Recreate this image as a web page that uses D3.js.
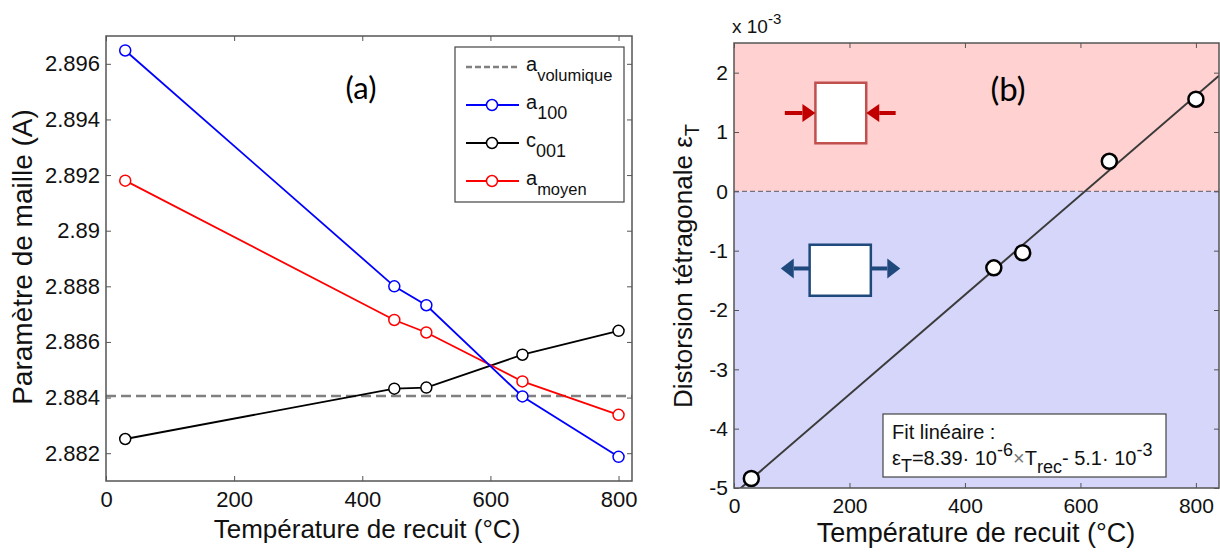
<!DOCTYPE html>
<html><head><meta charset="utf-8">
<script src="https://cdn.jsdelivr.net/npm/d3@7"></script>
<style>body{margin:0;background:#fff}svg{display:block}</style>
</head><body>
<svg id="c" width="1220" height="555"></svg>
<script>
// ---------- DATA ----------
const temps = [30, 450, 500, 650, 800];
const a100 = [2.89648, 2.8880, 2.88732, 2.88404, 2.88187];
const c001 = [2.88251, 2.88432, 2.88436, 2.88554, 2.88640];
const aMoyen = [2.89180, 2.88679, 2.88634, 2.88458, 2.88338];
const aVolumique = 2.88406;
const leftYTicks = [2.882, 2.884, 2.886, 2.888, 2.89, 2.892, 2.894, 2.896];
const xTicks = [0, 200, 400, 600, 800];
const distortion = [-4.84, -1.29, -1.035, 0.506, 1.553]; // x 1e-3
const rightYTicks = [-5, -4, -3, -2, -1, 0, 1, 2];
const fitSlope = 8.39e-3; // per °C, in units of 1e-3
const fitIntercept = -5.1;

const svg = d3.select("#c");
const TICKF = "'Liberation Sans', Arial, sans-serif";
const AXC = "#555";

function frame(g, x, y, xt, yt, ylabFmt, fs) {
  const [x0, x1] = x.range(), [y0, y1] = y.range();
  g.append("g").attr("transform", `translate(0,${y0})`)
    .call(d3.axisBottom(x).tickValues(xt).tickSizeInner(-5).tickSizeOuter(0).tickPadding(10))
    .call(s => { s.select(".domain").remove(); s.selectAll("line").attr("stroke", AXC); s.selectAll("text").attr("font-family", TICKF).attr("font-size", fs).attr("fill", "#111"); });
  g.append("g").attr("transform", `translate(0,${y1})`)
    .call(d3.axisTop(x).tickValues(xt).tickSizeInner(-5).tickSizeOuter(0).tickFormat(""))
    .call(s => { s.select(".domain").remove(); s.selectAll("line").attr("stroke", AXC); });
  g.append("g").attr("transform", `translate(${x0},0)`)
    .call(d3.axisLeft(y).tickValues(yt).tickSizeInner(-5).tickSizeOuter(0).tickPadding(6).tickFormat(ylabFmt))
    .call(s => { s.select(".domain").remove(); s.selectAll("line").attr("stroke", AXC); s.selectAll("text").attr("font-family", TICKF).attr("font-size", fs).attr("fill", "#111"); });
  g.append("g").attr("transform", `translate(${x1},0)`)
    .call(d3.axisRight(y).tickValues(yt).tickSizeInner(-5).tickSizeOuter(0).tickFormat(""))
    .call(s => { s.select(".domain").remove(); s.selectAll("line").attr("stroke", AXC); });
  g.append("rect").attr("x", x0).attr("y", y1).attr("width", x1 - x0).attr("height", y0 - y1)
    .attr("fill", "none").attr("stroke", AXC).attr("stroke-width", 1.5);
}

// ---------- LEFT PANEL ----------
const L = svg.append("g");
const xL = d3.scaleLinear().domain([0, 821]).range([106, 632]);
const yL = d3.scaleLinear().domain([2.881, 2.897]).range([481, 36]);

L.append("line").attr("x1", xL(0)).attr("x2", xL(821)).attr("y1", yL(aVolumique)).attr("y2", yL(aVolumique))
  .attr("stroke", "#808080").attr("stroke-width", 2.5).attr("stroke-dasharray", "10,5");

const seriesL = [
  {name: "c", vals: c001, color: "#000"},
  {name: "m", vals: aMoyen, color: "#ff0000"},
  {name: "a", vals: a100, color: "#0000ff"}
];
const lineL = d3.line().x((d, i) => xL(temps[i])).y(d => yL(d));
seriesL.forEach(s => {
  L.append("path").attr("d", lineL(s.vals)).attr("fill", "none").attr("stroke", s.color).attr("stroke-width", 1.8);
  L.selectAll(null).data(s.vals).enter().append("circle")
    .attr("cx", (d, i) => xL(temps[i])).attr("cy", d => yL(d)).attr("r", 5.5)
    .attr("fill", "#fff").attr("stroke", s.color).attr("stroke-width", 1.5);
});
frame(L, xL, yL, xTicks, leftYTicks, d => String(+d.toFixed(3)), 22);

L.append("text").attr("x", 361).attr("y", 99).attr("text-anchor", "middle")
  .attr("font-family", "Lato, 'Open Sans', sans-serif").attr("font-size", 31).text("(a)");

// legend
const leg = L.append("g");
leg.append("rect").attr("x", 455).attr("y", 47).attr("width", 169).attr("height", 155)
  .attr("fill", "#fff").attr("stroke", "#444").attr("stroke-width", 1.2);
const legItems = [
  {b: "a", s: "volumique", color: "#808080", dash: true},
  {b: "a", s: "100", color: "#0000ff"},
  {b: "c", s: "001", color: "#000"},
  {b: "a", s: "moyen", color: "#ff0000"}
];
legItems.forEach((it, i) => {
  const yy = 67 + i * 38;
  leg.append("line").attr("x1", 466).attr("x2", 519).attr("y1", yy).attr("y2", yy)
    .attr("stroke", it.color).attr("stroke-width", it.dash ? 2.5 : 1.8)
    .attr("stroke-dasharray", it.dash ? "6,3" : null);
  if (!it.dash) leg.append("circle").attr("cx", 492).attr("cy", yy).attr("r", 5.5)
    .attr("fill", "#fff").attr("stroke", it.color).attr("stroke-width", 1.5);
  const t = leg.append("text").attr("x", 526).attr("y", yy + 4).attr("font-family", TICKF).attr("font-size", 20).attr("fill", "#111");
  t.append("tspan").text(it.b);
  t.append("tspan").attr("dy", 10).attr("font-size", it.s === "volumique" || it.s === "moyen" ? 16.5 : 18).text(it.s);
});

L.append("text").attr("x", 367).attr("y", 538).attr("text-anchor", "middle")
  .attr("font-family", TICKF).attr("font-size", 26).attr("fill", "#111").text("Température de recuit (°C)");
L.append("text").attr("transform", "translate(32,257) rotate(-90)").attr("text-anchor", "middle")
  .attr("font-family", TICKF).attr("font-size", 28).attr("fill", "#111").text("Paramètre de maille (A)");

// ---------- RIGHT PANEL ----------
const R = svg.append("g");
const xR = d3.scaleLinear().domain([0, 840]).range([734, 1219]);
const yR = d3.scaleLinear().domain([-5, 2.5]).range([488, 43]);

R.append("rect").attr("x", xR(0)).attr("y", yR(2.5)).attr("width", xR(840) - xR(0)).attr("height", yR(0) - yR(2.5)).attr("fill", "#ffd1d1");
R.append("rect").attr("x", xR(0)).attr("y", yR(0)).attr("width", xR(840) - xR(0)).attr("height", yR(-5) - yR(0)).attr("fill", "#d5d6fa");
R.append("line").attr("x1", xR(0)).attr("x2", xR(840)).attr("y1", yR(0)).attr("y2", yR(0))
  .attr("stroke", "#7a7080").attr("stroke-width", 1.2).attr("stroke-dasharray", "5,3");

// icons (data units)
function arrow(g, xa, xb, yv, color, headLen, headHalf, w) {
  const x1 = xR(xa), x2 = xR(xb), y = yR(yv);
  const dir = Math.sign(x2 - x1);
  g.append("line").attr("x1", x1).attr("x2", x2 - dir * headLen).attr("y1", y).attr("y2", y).attr("stroke", color).attr("stroke-width", w);
  g.append("path").attr("d", `M${x2},${y}L${x2 - dir * headLen},${y - headHalf}L${x2 - dir * headLen},${y + headHalf}Z`).attr("fill", color);
}
const ic = R.append("g");
ic.append("rect").attr("x", xR(141)).attr("y", yR(1.83)).attr("width", xR(229) - xR(141)).attr("height", yR(0.81) - yR(1.83))
  .attr("fill", "#fff").attr("stroke", "#c0504d").attr("stroke-width", 2.5);
arrow(ic, 88, 141, 1.32, "#c00000", 13, 9, 4);
arrow(ic, 280, 229, 1.32, "#c00000", 13, 9, 4);
ic.append("rect").attr("x", xR(131)).attr("y", yR(-0.9)).attr("width", xR(237) - xR(131)).attr("height", yR(-1.76) - yR(-0.9))
  .attr("fill", "#fff").attr("stroke", "#1f497d").attr("stroke-width", 2.5);
arrow(ic, 131, 81, -1.3, "#1f497d", 13, 10, 4);
arrow(ic, 237, 288, -1.3, "#1f497d", 13, 10, 4);

// fit line
R.append("clipPath").attr("id", "clipR").append("rect")
  .attr("x", xR(0)).attr("y", yR(2.5)).attr("width", xR(840) - xR(0)).attr("height", yR(-5) - yR(2.5));
const fitX = [0, 840];
R.append("path").attr("clip-path", "url(#clipR)")
  .attr("d", d3.line().x(d => xR(d)).y(d => yR(fitSlope * d + fitIntercept))(fitX))
  .attr("fill", "none").attr("stroke", "#3a3a3a").attr("stroke-width", 2);
R.selectAll(null).data(distortion).enter().append("circle")
  .attr("cx", (d, i) => xR(temps[i])).attr("cy", d => yR(d)).attr("r", 7.5)
  .attr("fill", "#fff").attr("stroke", "#000").attr("stroke-width", 2.5);

frame(R, xR, yR, xTicks, rightYTicks, d => String(d), 21);

R.append("text").attr("x", 1008).attr("y", 101).attr("text-anchor", "middle")
  .attr("font-family", "Lato, 'Open Sans', sans-serif").attr("font-size", 33).text("(b)");

const xt = R.append("text").attr("x", 732).attr("y", 33).attr("font-family", TICKF).attr("font-size", 19).attr("fill", "#111");
xt.append("tspan").text("x 10");
xt.append("tspan").attr("dy", -9).attr("font-size", 15).text("-3");

// fit box
R.append("rect").attr("x", 883).attr("y", 414).attr("width", 283).attr("height", 63)
  .attr("fill", "#fff").attr("stroke", "#444").attr("stroke-width", 1.2);
R.append("text").attr("x", 892).attr("y", 439).attr("font-family", TICKF).attr("font-size", 20).attr("fill", "#111").text("Fit linéaire :");
const ft = R.append("text").attr("x", 892).attr("y", 465).attr("font-family", TICKF).attr("font-size", 20).attr("fill", "#111");
ft.append("tspan").text("ε");
ft.append("tspan").attr("dy", 7).attr("font-size", 18).text("T");
ft.append("tspan").attr("dy", -7).text("=8.39· 10");
ft.append("tspan").attr("dy", -9).attr("font-size", 18).text("-6");
ft.append("tspan").attr("dy", 9).attr("fill", "#777").text("×");
ft.append("tspan").attr("fill", "#111").text("T");
ft.append("tspan").attr("dy", 8).attr("font-size", 18).text("rec");
ft.append("tspan").attr("dy", -8).text("- 5.1· 10");
ft.append("tspan").attr("dy", -9).attr("font-size", 18).text("-3");

R.append("text").attr("x", 976).attr("y", 542).attr("text-anchor", "middle")
  .attr("font-family", TICKF).attr("font-size", 27).attr("fill", "#111").text("Température de recuit (°C)");
const yt = R.append("text").attr("transform", "translate(692,266) rotate(-90)").attr("text-anchor", "middle")
  .attr("font-family", TICKF).attr("font-size", 26).attr("fill", "#111");
yt.append("tspan").text("Distorsion tétragonale ε");
yt.append("tspan").attr("dy", 7).attr("font-size", 20).text("T");
</script>
</body></html>
